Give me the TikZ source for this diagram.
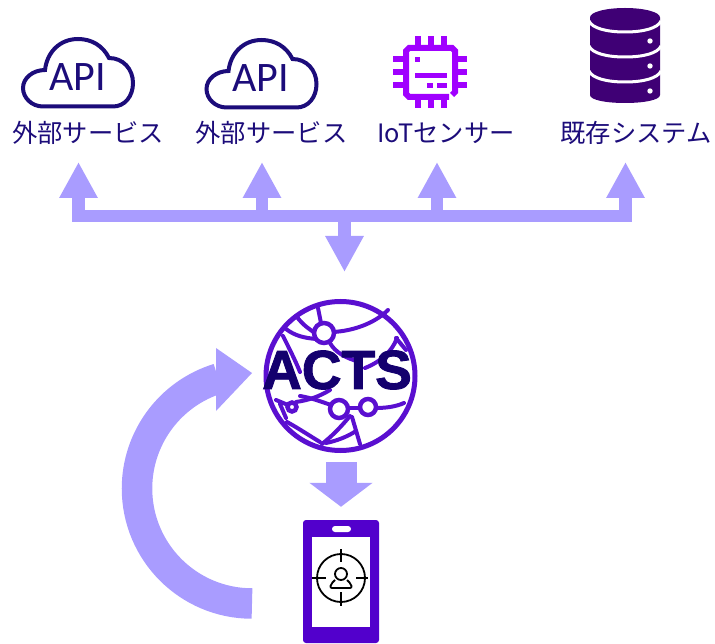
\documentclass[tikz,border=0pt]{standalone}
\usepackage{fontspec}
\setmainfont{Noto Sans CJK JP}
\newfontfamily\apifont{Carlito}
\newfontfamily\actsfont[BoldFeatures={FakeBold=1.6}]{Liberation Sans}
\usetikzlibrary{positioning,calc,arrows.meta}
\definecolor{flowcol}{HTML}{A99CFF}
\definecolor{inkcol}{HTML}{1C0C7A}
\definecolor{actsink}{HTML}{14006E}
\definecolor{dbcol}{HTML}{3F0075}
\definecolor{chipcol}{HTML}{A000FF}
\definecolor{globecol}{HTML}{5A0FD0}
\definecolor{phonecol}{HTML}{5200CC}
\tikzset{
  flow/.style={draw=flowcol, line width=12.5pt, line join=miter, -{Triangle[length=36pt,width=36pt]}},
  servicelabel/.style={text=inkcol, inner sep=0pt, font=\fontsize{25.3}{30}\selectfont},
  apilabel/.style={text=inkcol, inner sep=0pt, font=\apifont\fontsize{42}{46}\selectfont},
  cloudline/.style={draw=inkcol, line width=4pt},
  globeline/.style={draw=globecol, line width=4pt, line cap=round},
  smallhub/.style={circle, draw=globecol, fill=white, line width=4.5pt, inner sep=0pt},
  chippin/.style={fill=chipcol},
  aimline/.style={draw=black, line width=1.8pt},
  cloudicon/.pic={
    \draw[cloudline] (43,106.5) -- (113,106.5) .. controls (125,106.5) and (133,96) .. (133,83)
      .. controls (133,69) and (123,58) .. (109,58) .. controls (103,46) and (92,39) .. (78,39)
      .. controls (60,39) and (47,52) .. (45,70) .. controls (33,70) and (23,78) .. (23,88)
      .. controls (23,98) and (32,106.5) .. (43,106.5) -- cycle;
  }
}
\begin{document}
\begin{tikzpicture}[x=1pt, y=-1pt]
	\useasboundingbox (0,0) rectangle (715,644);

	% top row
	\pic at (0,0) {cloudicon};
	\pic at (183.5,1) {cloudicon};
	\node [apilabel] (api1) at (77.5,77) {API};
	\node [apilabel] (api2) at (260.5,78) {API};
	\node [servicelabel] (ext1) at (88,133) {外部サービス};
	\node [servicelabel] (ext2) at (271.5,133) {外部サービス};
	\node [servicelabel] (iot) at (446,133) {IoTセンサー};
	\node [servicelabel] (legacy) at (636,133) {既存システム};

	% chip
	\draw [draw=chipcol, line width=6pt] (449,97) -- (409,97) -- (406,94) -- (406,51)
		-- (409,48) -- (452,48) -- (455,51) -- (455,92) -- (452,95);
	\foreach \px in {415,428,441} {
		\fill [chippin] (\px-0.5,36) rectangle (\px+5.5,46);
		\fill [chippin] (\px-0.5,97) rectangle (\px+5.5,108);
	}
	\foreach \py in {57,70,83} {
		\fill [chippin] (393,\py-0.5) rectangle (404,\py+5.5);
		\fill [chippin] (457,\py-0.5) rectangle (467,\py+5.5);
	}
	\fill [chippin] (415,57) rectangle (420,62);
	\fill [chippin] (415,73) rectangle (447,78);
	\fill [chippin] (427,83) rectangle (433,88);
	\fill [chippin] (437,83) rectangle (447,88);

	% database
	\fill [dbcol] (590,17.5) -- (590,95) .. controls (590,100) and (606,103) .. (625,103)
		.. controls (644,103) and (660,100) .. (660,95) -- (660,17.5)
		.. controls (660,12) and (644,8) .. (625,8) .. controls (606,8) and (590,12) .. (590,17.5) -- cycle;
	\foreach \dy in {0,25,50} {
		\draw [white, line width=3pt] (589,21+\dy) .. controls (592,28+\dy) and (606,32+\dy) .. (625,32+\dy)
			.. controls (644,32+\dy) and (658,28+\dy) .. (661,21+\dy);
		\fill [white] (650,41+\dy) circle (2.7pt);
	}

	% bus arrows
	\coordinate (tip1) at (78.5,162);
	\coordinate (tip2) at (262,162);
	\coordinate (tip3) at (437,162);
	\coordinate (tip4) at (625.5,162);
	\coordinate (tipdown) at (344.5,272);
	\coordinate (bus1) at (78.5,216);
	\coordinate (bus2) at (262,216);
	\coordinate (bus3) at (437,216);
	\coordinate (bus4) at (625.5,216);
	\coordinate (busdown) at (344.5,216);
	\draw [flow, {Triangle[length=36pt,width=36pt]}-{Triangle[length=36pt,width=36pt]}]
		(tip1) -- (bus1) -- (bus4) -- (tip4);
	\draw [flow] (bus2) -- (tip2);
	\draw [flow] (bus3) -- (tip3);
	\draw [flow] (busdown) -- (tipdown);

	% globe
	\node [circle, draw=globecol, line width=5pt, minimum size=149pt, inner sep=0pt] (acts) at (340.5,376) {};
	\draw [globeline] (318,308) -- (321,323);
	\draw [globeline] (297,317) .. controls (303,325) and (309,329) .. (315,333);
	\draw [globeline] (286,329) .. controls (295,336) and (305,338) .. (316,339);
	\draw [globeline] (333,332) .. controls (352,331) and (374,324) .. (388,310);
	\draw [globeline] (330,343) .. controls (335,352) and (345,358) .. (360,362);
	\draw [globeline] (283,336) .. controls (290,350) and (296,362) .. (300,372);
	\draw [globeline] (397,338) .. controls (392,352) and (380,362) .. (365,368);
	\draw [globeline] (396,338) -- (406,350);
	\draw [globeline] (300,396) .. controls (312,398) and (322,402) .. (331,405);
	\draw [globeline] (296,402) .. controls (310,400) and (320,396) .. (330,390);
	\draw [globeline] (347,408) -- (361,408);
	\draw [globeline] (375,408) .. controls (385,408) and (395,407) .. (404,403);
	\draw [globeline] (276,400) -- (288,405);
	\draw [globeline] (280,404) -- (286,418);
	\draw [globeline] (287,422) .. controls (298,428) and (310,436) .. (320,442);
	\draw [globeline] (350,416) .. controls (340,428) and (332,436) .. (322,444);
	\draw [globeline] (352,417) -- (360,444);
	\draw [globeline] (326,443) .. controls (336,441) and (347,437) .. (356,431);
	\node [smallhub, minimum size=20pt] (hub1) at (324,333) {};
	\node [smallhub, minimum size=18pt] (hub2) at (339,409) {};
	\node [smallhub, minimum size=16pt] (hub3) at (368,407) {};
	\node [smallhub, minimum size=9pt] (hub4) at (292,407) {};
	\node [text=actsink, inner sep=0pt, font=\actsfont\bfseries\fontsize{55}{58}\selectfont] (actslabel) at (337,370) {ACTS};

	% phone
	\node [rectangle, fill=phonecol, rounded corners=3pt, minimum width=76pt, minimum height=123pt, inner sep=0pt] (phone) at (341,581.5) {};
	\fill [white] (312,537) rectangle (370,627);
	\fill [white, rounded corners=3pt] (332,526) rectangle (351,532);
	\draw [aimline] (341,578) circle (24pt);
	\draw [aimline] (341,549) -- (341,562);
	\draw [aimline] (341,592) -- (341,606);
	\draw [aimline] (312,578) -- (326,578);
	\draw [aimline] (356,578) -- (368,578);
	\draw [aimline] (341,574) circle (6pt);
	\draw [aimline, rounded corners=2pt] (335,580) -- (331,584) -- (330,588) -- (352,588) -- (351,584) -- (347,580);

	% acts to phone and loop back
	\draw [flow, line width=31pt, -{Triangle[length=24pt,width=62pt]}, shorten <=9pt, shorten >=13pt] (acts.south -| phone) -- (phone);
	\coordinate (loopstart) at (252,603.5);
	\coordinate (looptip) at (252,373);
	\coordinate (loopupper) at (216,348);
	\coordinate (looplower) at (216,411);
	\draw [draw=flowcol, line width=30.5pt] (loopstart)
		arc [start angle=270, end angle=107, radius=115pt];
	\fill [flowcol] (loopupper) -- (looptip) -- (looplower) -- cycle;
\end{tikzpicture}
\end{document}
